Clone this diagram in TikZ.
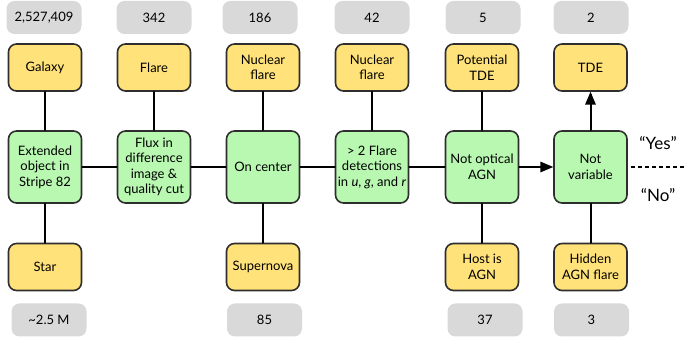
\documentclass[tikz,border=0pt]{standalone}
\usepackage{fontspec}
\setmainfont{Lato}
\usetikzlibrary{arrows}
\definecolor{boxyellow}{HTML}{FFE27A}
\definecolor{boxgreen}{HTML}{B9F8B1}
\definecolor{countgray}{HTML}{D9D9D9}
\definecolor{edgegray}{HTML}{2E2E2E}

\begin{document}
\begin{tikzpicture}[line cap=round,line join=round,>=triangle 45,x=1pt,y=1pt,
        outcome/.style={draw=edgegray,line width=1.6pt,fill=boxyellow,rounded corners=8pt,minimum width=73pt,minimum height=47pt,align=center,inner sep=1pt,font=\fontsize{13}{15.5}\selectfont},
        cut/.style={outcome,fill=boxgreen,minimum height=72pt},
        count/.style={fill=countgray,rounded corners=8pt,minimum width=75pt,minimum height=33pt,font=\fontsize{13}{15.5}\selectfont},
        answer/.style={font=\fontsize{17}{20}\selectfont}]
        \useasboundingbox (0,0) rectangle (686,339);
        \node [count] (ngalaxy) at (44,321.5) {2,527,409};
        \node [count] (nflare) at (154,321.5) {342};
        \node [count] (nnuclear) at (260,321.5) {186};
        \node [count] (nmulti) at (372,321.5) {42};
        \node [count] (npotential) at (483,321.5) {5};
        \node [count] (ntde) at (591,321.5) {2};
        \node [outcome] (galaxy) at (45,271.5) {Galaxy};
        \node [outcome] (flare) at (154,271.5) {Flare};
        \node [outcome] (nuclear) at (263,271.5) {Nuclear\\flare};
        \node [outcome] (nuclear2) at (372,271.5) {Nuclear\\flare};
        \node [outcome] (potential) at (482,271.5) {Potential\\TDE};
        \node [outcome] (tde) at (590.5,271.5) {TDE};
        \node [cut] (extended) at (45,172) {Extended\\object in\\Stripe 82};
        \node [cut] (flux) at (154,172) {Flux in\\difference\\image \&\\quality cut};
        \node [cut] (oncenter) at (263,172) {On center};
        \node [cut] (multi) at (372,172) {> 2 Flare\\detections\\in \textit{u}, \textit{g}, and \textit{r}};
        \node [cut] (notagn) at (482,172) {Not optical\\AGN};
        \node [cut] (notvar) at (590.5,172) {Not\\variable};
        \node [outcome] (star) at (45,72) {Star};
        \node [outcome] (supernova) at (263,72) {Supernova};
        \node [outcome] (host) at (482,72) {Host is\\AGN};
        \node [outcome] (hidden) at (590.5,72) {Hidden\\AGN flare};
        \node [count] (nstar) at (49,19) {\textasciitilde 2.5 M};
        \node [count] (nsupernova) at (264.5,19) {85};
        \node [count] (nhost) at (485,19) {37};
        \node [count] (nhidden) at (591.5,19) {3};
        \node [answer] (yes) at (658,196) {“Yes”};
        \node [answer] (no) at (658,144) {“No”};
        \coordinate (dashend) at (686,172);
        \draw [line width=2.pt] (galaxy)-- (extended);
        \draw [line width=2.pt] (extended)-- (star);
        \draw [line width=2.pt] (flare)-- (flux);
        \draw [line width=2.pt] (nuclear)-- (oncenter);
        \draw [line width=2.pt] (oncenter)-- (supernova);
        \draw [line width=2.pt] (nuclear2)-- (multi);
        \draw [line width=2.pt] (potential)-- (notagn);
        \draw [line width=2.pt] (notagn)-- (host);
        \draw [line width=2.pt] (hidden)-- (notvar);
        \draw [line width=2.pt] (extended)-- (flux);
        \draw [line width=2.pt] (flux)-- (oncenter);
        \draw [line width=2.pt] (oncenter)-- (multi);
        \draw [line width=2.pt] (multi)-- (notagn);
        \draw [line width=2.pt,->] (notagn)-- (notvar);
        \draw [line width=2.pt,->] (notvar)-- (tde);
        \draw [line width=1.5pt,line cap=butt,dash pattern=on 4pt off 3pt,shorten <=3pt] (notvar)-- (dashend);
\end{tikzpicture}
\end{document}
